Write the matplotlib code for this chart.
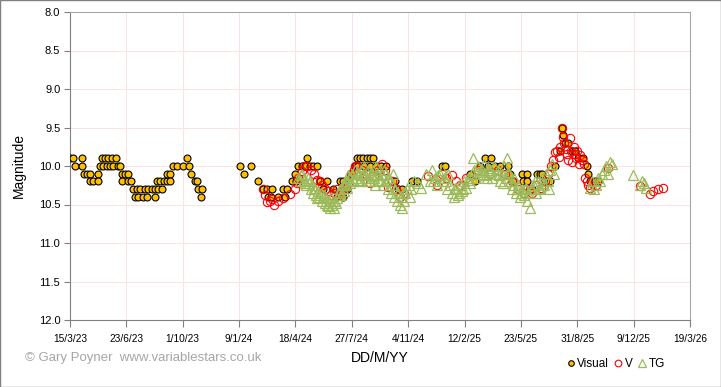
import numpy as np
import matplotlib
matplotlib.use('Agg')
import matplotlib.pyplot as plt
from matplotlib.patches import Rectangle

START = np.datetime64('2023-03-15')

# observations: days since 15/3/23 and magnitude
visual_days = [0, 5, 9, 21, 21, 24, 30, 35, 35, 41, 49, 50, 53, 56, 59, 62, 65, 68, 71, 74,
               77, 82, 86, 89, 92, 92, 98, 103, 103, 109, 112, 115, 118, 121, 124, 130, 133,
               136, 139, 145, 151, 151, 154, 157, 160, 163, 166, 172, 172, 177, 177, 183,
               190, 200, 208, 211, 215, 222, 225, 227, 232, 234,
               302, 309, 321, 334, 342, 350, 351, 357, 358, 369, 378, 381, 385, 394, 399,
               401, 405, 412, 417, 420, 426, 431, 438, 444, 449, 456, 467, 474, 479, 484,
               484, 491, 500, 506, 509, 511, 515, 520, 522, 527, 532, 532, 538, 543, 552,
               561, 577, 582, 589, 607, 616, 660, 665, 710, 719, 727, 736, 742, 747, 754,
               763, 777, 781, 786, 802, 803, 811, 811, 820, 829, 834, 837, 843, 848, 852,
               860, 869, 873, 875, 878, 884, 891, 896, 901, 910, 917, 919, 923, 931, 937]
visual_mag = [9.9, 9.9, 10.0, 9.9, 10.0, 10.1, 10.1, 10.1, 10.2, 10.2, 10.1, 10.2, 10.0, 9.9,
              10.0, 9.9, 10.0, 9.9, 10.0, 9.9, 10.0, 9.9, 10.0, 10.0, 10.1, 10.2, 10.1, 10.1,
              10.2, 10.2, 10.3, 10.4, 10.3, 10.4, 10.3, 10.4, 10.3, 10.4, 10.3, 10.3, 10.4,
              10.3, 10.2, 10.3, 10.2, 10.3, 10.2, 10.2, 10.1, 10.1, 10.2, 10.0, 10.0, 10.0,
              9.9, 10.0, 10.1, 10.2, 10.2, 10.3, 10.4, 10.3,
              10.0, 10.1, 10.0, 10.2, 10.3, 10.3, 10.4, 10.4, 10.3, 10.4, 10.3, 10.4, 10.3,
              10.2, 10.1, 10.2, 10.0, 10.0, 10.0, 9.9, 10.0, 10.0, 10.0, 10.2, 10.3, 10.2,
              10.3, 10.4, 10.2, 10.4, 10.2, 10.3, 10.1, 10.0, 9.9, 10.0, 9.9, 9.9, 10.0, 9.9,
              9.9, 10.0, 9.9, 10.0, 10.0, 10.0, 10.2, 10.3, 10.3, 10.2, 10.2, 10.0, 10.0,
              10.1, 10.2, 10.0, 9.9, 10.0, 9.9, 10.0, 10.0, 10.0, 10.1, 10.2, 10.1, 10.2,
              10.1, 10.2, 10.3, 10.1, 10.1, 10.1, 10.2, 10.2, 10.2, 10.0, 9.8, 9.5, 9.6, 9.7,
              9.7, 9.8, 9.8, 9.9, 9.9, 10.0, 10.1, 10.2, 10.2, 10.2]

v_days = [342, 346, 350, 355, 358, 362, 369, 378, 390, 399, 403, 405, 412, 415, 420, 428,
          433, 438, 444, 447, 452, 458, 463, 468, 474, 477, 483, 488, 493, 499, 504, 506,
          509, 518, 525, 532, 539, 546, 554, 559, 564, 571, 578, 585, 593, 635, 651, 660,
          667, 678, 685, 692, 703, 724, 745, 759, 772, 784, 795, 805, 816, 820, 827, 836,
          843, 848, 853, 857, 860, 864, 867, 869, 873, 875, 876, 880, 882, 884, 887, 889,
          891, 894, 896, 898, 900, 903, 905, 909, 912, 914, 917, 919, 923, 926, 933, 955,
          1011, 1029, 1034, 1043, 1052]
v_mag = [10.3, 10.38, 10.47, 10.45, 10.43, 10.5, 10.46, 10.42, 10.37, 10.3, 10.22, 10.15,
         10.07, 10.0, 10.0, 10.05, 10.1, 10.18, 10.2, 10.25, 10.3, 10.33, 10.38, 10.35, 10.3,
         10.38, 10.32, 10.28, 10.22, 10.1, 10.05, 10.0, 10.0, 10.05, 10.1, 10.22, 10.12,
         10.05, 9.97, 10.05, 10.27, 10.2, 10.3, 10.4, 10.35, 10.13, 10.25, 10.1, 10.15,
         10.12, 10.2, 10.25, 10.15, 10.05, 10.1, 10.05, 10.1, 10.2, 10.3, 10.35, 10.3, 10.35,
         10.25, 10.28, 10.2, 10.1, 10.0, 9.92, 9.82, 9.8, 9.88, 9.75, 9.51, 9.62, 9.7, 9.78,
         9.85, 9.92, 9.64, 9.8, 9.95, 9.75, 9.85, 9.9, 9.8, 9.97, 9.86, 9.92, 9.97, 10.16,
         10.2, 10.25, 10.28, 10.22, 10.25, 10.03, 10.26, 10.36, 10.32, 10.3, 10.28]

tg_days = [405, 408, 412, 415, 419, 422, 424, 428, 429, 431, 435, 436, 440, 442, 445, 447,
           449, 452, 454, 458, 460, 461, 465, 467, 468, 472, 474, 477, 479, 481, 484, 486,
           490, 491, 495, 497, 500, 502, 506, 507, 511, 513, 516, 518, 522, 523, 527, 529,
           532, 534, 538, 539, 543, 545, 548, 550, 554, 555, 559, 561, 564, 566, 570, 571,
           575, 577, 580, 582, 585, 587, 589, 593, 594, 598, 601, 605, 610, 617, 623, 632,
           639, 642, 648, 651, 656, 660, 664, 667, 671, 674, 678, 681, 685, 688, 692, 695,
           699, 703, 706, 710, 713, 715, 717, 720, 724, 727, 731, 735, 738, 742, 745, 749,
           752, 756, 759, 763, 766, 770, 774, 775, 777, 781, 784, 788, 791, 795, 798, 802,
           805, 809, 813, 816, 820, 823, 827, 830, 834, 837, 841, 845, 848, 852, 855, 859,
           923, 926, 930, 933, 937, 940, 944, 947, 951, 955, 958, 962, 999, 1011, 1015,
           1018, 1022,
           410, 417, 426, 433, 438, 451, 456, 463, 470, 488, 493, 504, 509, 515, 520, 525,
           536, 541, 552, 557, 568, 573, 591, 603, 644, 653, 662, 669, 683, 690, 697, 708,
           722, 733, 740, 747, 761, 768, 779, 786, 793, 800, 807, 811, 818, 825, 832, 839,
           850]
tg_mag = [10.15, 10.2, 10.1, 10.18, 10.25, 10.15, 10.22, 10.3, 10.25, 10.35, 10.3, 10.38,
          10.33, 10.4, 10.35, 10.45, 10.4, 10.48, 10.42, 10.52, 10.45, 10.55, 10.5, 10.45,
          10.55, 10.48, 10.42, 10.35, 10.3, 10.38, 10.25, 10.32, 10.2, 10.28, 10.15, 10.22,
          10.1, 10.18, 10.05, 10.15, 10.1, 10.2, 10.05, 10.12, 10.0, 10.1, 10.15, 10.05,
          10.2, 10.1, 10.05, 10.15, 10.0, 10.1, 10.2, 10.05, 10.12, 10.25, 10.1, 10.2, 10.3,
          10.15, 10.35, 10.25, 10.4, 10.3, 10.45, 10.35, 10.5, 10.4, 10.55, 10.45, 10.35,
          10.3, 10.25, 10.3, 10.2, 10.22, 10.28, 10.1, 10.2, 10.05, 10.15, 10.25, 10.1,
          10.05, 10.15, 10.2, 10.1, 10.25, 10.35, 10.4, 10.3, 10.38, 10.25, 10.32, 10.2,
          10.28, 10.15, 10.22, 10.1, 9.9, 10.05, 10.15, 10.0, 10.1, 10.05, 9.98, 10.12,
          10.02, 10.08, 10.15, 10.0, 10.1, 10.05, 10.2, 10.1, 10.0, 10.15, 9.9, 10.08, 10.2,
          10.3, 10.15, 10.35, 10.25, 10.4, 10.3, 10.38, 10.28, 10.35, 10.55, 10.3, 10.25,
          10.35, 10.2, 10.28, 10.15, 10.25, 10.1, 10.2, 10.05, 9.97, 10.1,
          10.29, 10.2, 10.3, 10.25, 10.15, 10.2, 10.1, 10.05, 10.0, 10.1, 9.95, 9.97, 10.12,
          10.25, 10.2, 10.22, 10.28,
          10.12, 10.22, 10.2, 10.28, 10.42, 10.38, 10.5, 10.4, 10.45, 10.25, 10.12, 10.2,
          10.08, 10.18, 10.12, 10.2, 10.12, 10.25, 10.18, 10.05, 10.2, 10.1, 10.35, 10.4,
          10.2, 10.12, 10.2, 10.3, 10.28, 10.35, 10.3, 10.18, 10.08, 10.1, 10.15, 10.05,
          10.12, 10.22, 10.1, 10.25, 10.3, 10.35, 10.3, 10.45, 10.3, 10.2, 10.3, 10.22, 10.3]

tick_days = list(range(0, 1101, 100))
y_ticks = [8.0, 8.5, 9.0, 9.5, 10.0, 10.5, 11.0, 11.5, 12.0]


def to_dates(days):
    return START + np.array(days).astype('timedelta64[D]')


def label(d):
    d = d.astype(object)
    return f"{d.day}/{d.month}/{d.strftime('%y')}"


fig = plt.figure(figsize=(7.21, 3.87), dpi=100)
ax = fig.add_axes([70/721, 1-320/387, 620/721, 308/387])

ax.plot(to_dates(visual_days), visual_mag, 'o', ms=5, mfc='#FFC000', mec='black',
        mew=0.8, label='Visual', zorder=3)
ax.plot(to_dates(v_days), v_mag, 'o', ms=6, mfc='none', mec='#FF0000',
        mew=0.8, label='V', zorder=4)
ax.plot(to_dates(tg_days), tg_mag, '^', ms=6.5, mfc='none', mec='#9BBB59',
        mew=0.9, label='TG', zorder=5)

ticks = to_dates(tick_days)
ax.set_xlim(ticks[0], ticks[-1])
ax.set_xticks(ticks)
ax.set_xticklabels([label(t) for t in ticks], fontsize=7.3, family='Liberation Sans')
ax.set_ylim(12, 8)
ax.set_yticks(y_ticks)
ax.set_yticklabels([f'{v:.1f}' for v in y_ticks], fontsize=8, family='Liberation Sans')
ax.tick_params(axis='both', direction='out', length=4, width=0.8, color='#808080', pad=3)
ax.tick_params(axis='x', length=5, pad=5)

ax.grid(True, color='#FBE3E3', linewidth=0.7)
ax.set_axisbelow(True)
for side in ['left', 'bottom']:
    ax.spines[side].set_color('#808080')
for side in ['top', 'right']:
    ax.spines[side].set_color('#A6A6A6')

ax.set_ylabel('Magnitude', fontsize=10, family='Liberation Sans', labelpad=9)
ax.set_xlabel('DD/M/YY', fontsize=10, family='Liberation Sans', labelpad=5)

fig.text(25/721, 1-358/387, '\u00a9 Gary Poyner  www.variablestars.co.uk', color='#A6A6A6',
         fontsize=9.5, family='Liberation Sans', va='center', ha='left')

fig.legend(loc='center', bbox_to_anchor=(616/721, 1-364/387), ncol=3, frameon=False,
           prop={'family': 'Liberation Sans', 'size': 8.5}, handlelength=0.6,
           handletextpad=0.25, columnspacing=0.5, markerscale=0.8, borderpad=0)

fig.patches.append(Rectangle((0, 0), 1, 1, transform=fig.transFigure, fill=False,
                             edgecolor='#808080', linewidth=1.0))

fig.savefig('out.png', dpi=100)
